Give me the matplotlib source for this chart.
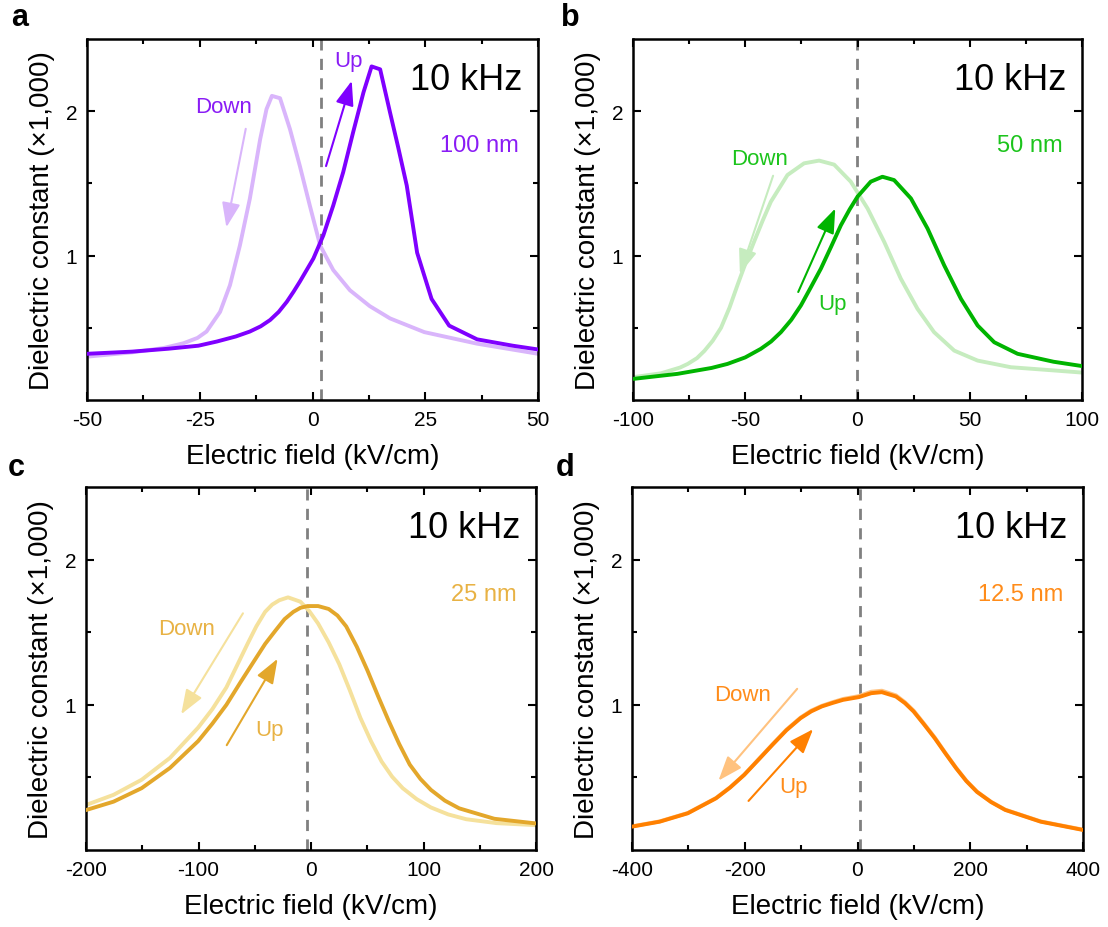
import matplotlib
matplotlib.use("Agg")
import matplotlib.pyplot as plt
from matplotlib.ticker import FixedLocator

plt.rcParams['font.family'] = ['Liberation Sans', 'DejaVu Sans']

# ---------------- data ----------------
# Panel a (100 nm)
a_up_x = [-50, -40, -32, -25.3, -21.2, -17, -13.9, -11.5, -9.4, -7.5, -5.7, -4.2, -2.8, -1.3, 0.2, 2.4, 4.6, 6.8, 9.0, 11.3, 13.1, 15.0, 17.2, 19.0, 20.9, 23.2, 26.4, 30.3, 36.5, 44.4, 50]
a_up_y = [0.32, 0.335, 0.355, 0.376, 0.405, 0.44, 0.474, 0.51, 0.554, 0.61, 0.68, 0.75, 0.82, 0.90, 0.98, 1.14, 1.347, 1.577, 1.853, 2.13, 2.31, 2.29, 1.99, 1.75, 1.485, 1.02, 0.70, 0.515, 0.42, 0.376, 0.35]
a_dn_x = [-50, -40, -33, -28.6, -25.5, -23.5, -20.5, -18.3, -16.1, -13.9, -11.6, -10.2, -9.0, -7.2, -5.0, -2.8, -0.6, 1.7, 4.6, 8.3, 12.7, 17.2, 24.8, 36.5, 50]
a_dn_y = [0.30, 0.33, 0.36, 0.393, 0.43, 0.474, 0.61, 0.795, 1.07, 1.393, 1.807, 2.014, 2.106, 2.09, 1.876, 1.62, 1.347, 1.07, 0.90, 0.76, 0.65, 0.565, 0.47, 0.39, 0.32]

# Panel b (50 nm)
b_up_x = [-100, -80.2, -65, -57.9, -50, -43.1, -38.5, -34.1, -29.5, -25.2, -20.8, -16.3, -11.8, -7.4, -3.5, 0.0, 5.9, 11.1, 16.3, 23.8, 31.2, 38.6, 46.1, 53.5, 60.9, 71.3, 87.3, 100]
b_up_y = [0.146, 0.181, 0.222, 0.25, 0.295, 0.354, 0.405, 0.47, 0.555, 0.655, 0.78, 0.91, 1.06, 1.21, 1.32, 1.408, 1.512, 1.546, 1.523, 1.396, 1.1875, 0.933, 0.70, 0.516, 0.40, 0.32, 0.265, 0.235]
b_dn_x = [-100, -87.5, -79, -75.6, -71.5, -68.2, -64.5, -60.8, -57, -53.5, -49.8, -46.1, -42.3, -38.6, -31.2, -23.8, -17.1, -10.4, -3.0, 4.5, 11.9, 19.3, 26.7, 34.1, 43.1, 53.5, 68.3, 87.3, 100]
b_dn_y = [0.158, 0.185, 0.225, 0.25, 0.29, 0.34, 0.41, 0.50, 0.64, 0.794, 0.95, 1.095, 1.24, 1.373, 1.558, 1.639, 1.658, 1.63, 1.512, 1.326, 1.095, 0.84, 0.632, 0.47, 0.342, 0.273, 0.227, 0.205, 0.19]

# Panel c (25 nm)
c_up_x = [-200, -175.5, -150.5, -125.4, -100.3, -87.7, -75.2, -62.7, -50.2, -40.7, -31.3, -23.5, -15.7, -9.4, -3.1, 6.3, 15.7, 23.5, 31.3, 40.7, 50.2, 59.6, 69, 78.4, 87.8, 97.2, 106.6, 119, 131.7, 163, 200]
c_up_y = [0.275, 0.333, 0.426, 0.565, 0.75, 0.87, 1.0, 1.155, 1.306, 1.42, 1.514, 1.59, 1.64, 1.668, 1.68, 1.68, 1.66, 1.615, 1.54, 1.40, 1.236, 1.06, 0.89, 0.73, 0.588, 0.49, 0.414, 0.34, 0.287, 0.215, 0.183]
c_dn_x = [-200, -175.5, -150.5, -125.4, -100.3, -87.7, -75.2, -65.8, -56.4, -48.6, -40.8, -34.5, -28.2, -20.4, -9.4, -1.5, 6.3, 15.7, 25.1, 34.5, 43.9, 53.3, 62.7, 72.1, 81.5, 94, 106.6, 122, 137.9, 165, 200]
c_dn_y = [0.31, 0.38, 0.484, 0.634, 0.843, 0.97, 1.12, 1.27, 1.42, 1.54, 1.64, 1.69, 1.72, 1.74, 1.71, 1.645, 1.56, 1.43, 1.28, 1.10, 0.91, 0.75, 0.61, 0.505, 0.426, 0.35, 0.293, 0.245, 0.212, 0.185, 0.171]

# Panel d (12.5 nm)
d_up_x = [-400, -351, -301, -251, -226, -201, -176, -151, -126, -101, -82, -63.2, -44, -25.7, 2.5, 24.4, 43.2, 68.2, 84, 99.5, 118, 137, 156, 175, 193, 212, 237, 262, 325, 400]
d_up_y = [0.161, 0.195, 0.253, 0.356, 0.43, 0.517, 0.62, 0.724, 0.825, 0.908, 0.955, 0.989, 1.013, 1.034, 1.053, 1.08, 1.087, 1.057, 1.012, 0.954, 0.865, 0.77, 0.665, 0.563, 0.475, 0.40, 0.33, 0.276, 0.195, 0.138]
d_dn_x = [-400, -351, -301, -251, -226, -201, -176, -151, -126, -101, -82, -63.2, -44, -25.7, 2.5, 24.4, 43.2, 68.2, 84, 99.5, 118, 137, 156, 175, 193, 212, 237, 262, 325, 400]
d_dn_y = [0.163, 0.197, 0.255, 0.358, 0.432, 0.519, 0.623, 0.727, 0.829, 0.912, 0.96, 0.993, 1.018, 1.04, 1.06, 1.09, 1.097, 1.065, 1.018, 0.96, 0.87, 0.775, 0.668, 0.566, 0.478, 0.402, 0.332, 0.278, 0.197, 0.140]

panel_letters = ['a', 'b', 'c', 'd']
thickness_labels = ['100 nm', '50 nm', '25 nm', '12.5 nm']
x_ranges = [(-50, 50), (-100, 100), (-200, 200), (-400, 400)]
x_major = [[-50, -25, 0, 25, 50], [-100, -50, 0, 50, 100], [-200, -100, 0, 100, 200], [-400, -200, 0, 200, 400]]
dash_x = [1.8, -0.3, -4, 4]
dark_colors = ['#7F00FF', '#00B400', '#E3A72B', '#FF8000']
light_colors = ['#D9B5FB', '#C6ECBF', '#F5E19C', '#FFC27F']
text_colors = ['#8A1CF5', '#1CC41C', '#E8B244', '#FF8C1A']

# arrows: (x0, y0, x1, y1)
down_arrows = [(-14.8, 1.878, -19.1, 1.196), (-37.6, 1.553, -52.4, 0.875), (-60.5, 1.63, -115.4, 0.935), (-107, 1.11, -246.6, 0.478)]
up_arrows = [(3.0, 1.62, 8.7, 2.21), (-26.4, 0.748, -9.9, 1.326), (-74.9, 0.722, -29.7, 1.317), (-193.3, 0.338, -78.8, 0.832)]
down_text = [(-19.7, 2.03), (-43.7, 1.67), (-110.7, 1.525), (-204, 1.074)]
up_text = [(7.9, 2.35), (-11.1, 0.67), (-36.7, 0.83), (-113.3, 0.437)]

ups = [(a_up_x, a_up_y), (b_up_x, b_up_y), (c_up_x, c_up_y), (d_up_x, d_up_y)]
downs = [(a_dn_x, a_dn_y), (b_dn_x, b_dn_y), (c_dn_x, c_dn_y), (d_dn_x, d_dn_y)]

# ---------------- figure ----------------
W, H = 1108, 928
fig = plt.figure(figsize=(W / 100, H / 100), dpi=100)
boxes = [(87, 40, 538, 401), (633, 40, 1082, 401), (86, 488, 536, 851), (632, 488, 1083, 851)]
letter_pos = [(11, 18), (561, 18), (8, 468), (556, 468)]

for i in range(4):
    l, t, r, b = boxes[i]
    ax = fig.add_axes([l / W, 1 - b / H, (r - l) / W, (b - t) / H])
    ax.set_xlim(*x_ranges[i])
    ax.set_ylim(0, 2.5)

    ax.axvline(dash_x[i], color='#808080', lw=2, ls=(0, (4, 3)), zorder=1)
    dx, dy = downs[i]
    ux, uy = ups[i]
    ax.plot(dx, dy, color=light_colors[i], lw=2.8, zorder=2, solid_joinstyle='round')
    ax.plot(ux, uy, color=dark_colors[i], lw=2.8, zorder=3, solid_joinstyle='round')

    x0, y0, x1, y1 = down_arrows[i]
    ax.annotate('', xy=(x1, y1), xytext=(x0, y0),
                arrowprops=dict(arrowstyle='-|>,head_length=0.75,head_width=0.28',
                                mutation_scale=20, lw=1.5, color=light_colors[i],
                                shrinkA=0, shrinkB=0), zorder=4)
    x0, y0, x1, y1 = up_arrows[i]
    ax.annotate('', xy=(x1, y1), xytext=(x0, y0),
                arrowprops=dict(arrowstyle='-|>,head_length=0.75,head_width=0.28',
                                mutation_scale=20, lw=1.5, color=dark_colors[i],
                                shrinkA=0, shrinkB=0), zorder=4)

    ax.text(*down_text[i], 'Down', color=text_colors[i], fontsize=16, ha='center', va='center')
    ax.text(*up_text[i], 'Up', color=text_colors[i], fontsize=16, ha='center', va='center')
    ax.text(0.965, 0.888, '10 kHz', transform=ax.transAxes, fontsize=26, ha='right', va='center')
    ax.text(0.957, 0.706, thickness_labels[i], transform=ax.transAxes, fontsize=17,
            color=text_colors[i], ha='right', va='center')

    ax.set_xticks(x_major[i])
    ax.set_xticklabels([str(v) for v in x_major[i]])
    mids = [(x_major[i][k] + x_major[i][k + 1]) / 2 for k in range(4)]
    ax.xaxis.set_minor_locator(FixedLocator(mids))
    ax.set_yticks([1, 2])
    ax.set_yticklabels(['1', '2'])
    ax.yaxis.set_minor_locator(FixedLocator([0.5, 1.5]))
    ax.tick_params(which='both', direction='in', top=True, right=True, width=1.5,
                   labelsize=15, pad=7)
    ax.tick_params(which='major', length=6)
    ax.tick_params(which='minor', length=3.5)
    for s in ax.spines.values():
        s.set_linewidth(1.8)

    ax.set_xlabel('Electric field (kV/cm)', fontsize=20, labelpad=10)
    ax.set_ylabel('Dielectric constant (\u00d71,000)', fontsize=20, labelpad=8)

    lx, ly = letter_pos[i]
    fig.text(lx / W, 1 - ly / H, panel_letters[i], fontsize=22,
             fontweight='bold', ha='left', va='center')

fig.savefig('out.png', dpi=100)
